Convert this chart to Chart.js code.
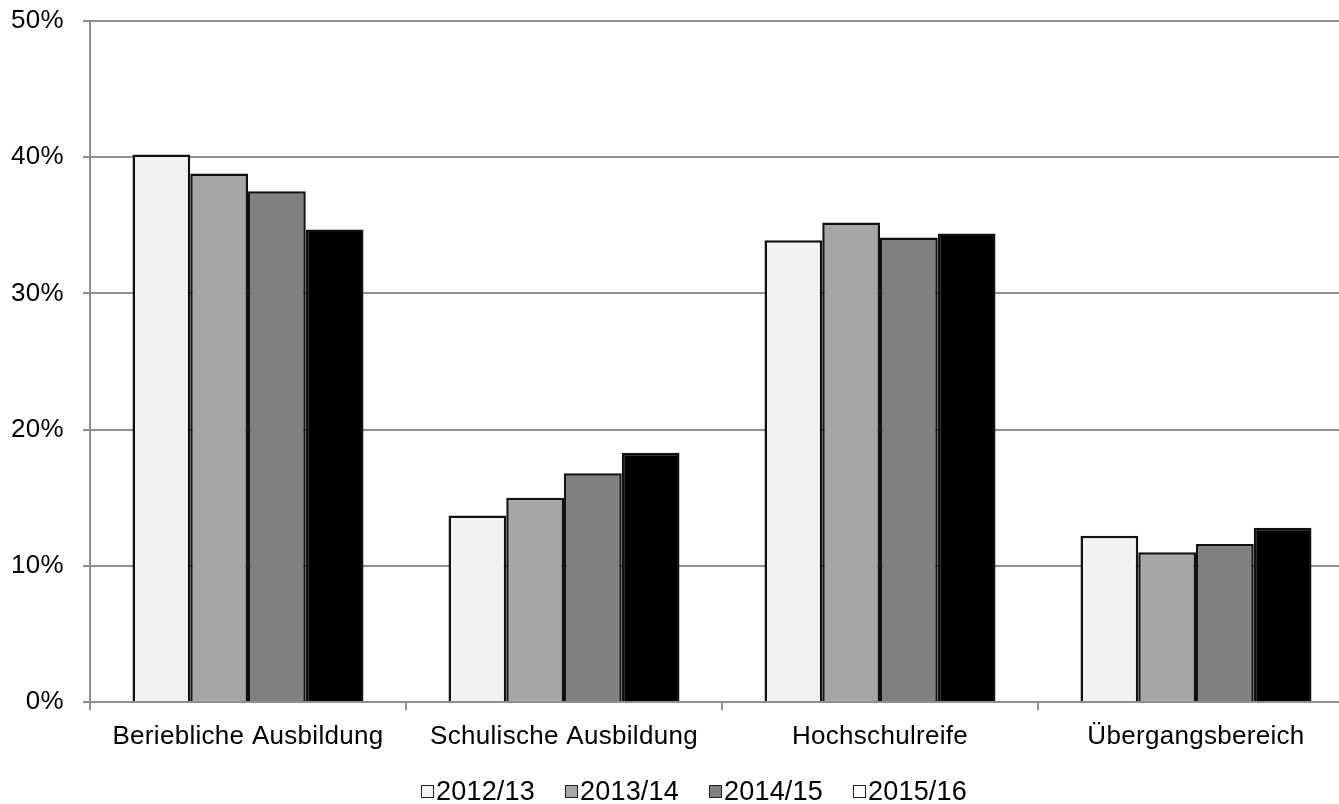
<!DOCTYPE html>
<html lang="de">
<head>
<meta charset="utf-8">
<title>Anteile nach Bildungsbereich</title>
<script src="https://cdn.jsdelivr.net/npm/chart.js@4.4.1/dist/chart.umd.min.js"></script>
<style>
  html, body { margin: 0; padding: 0; background: #ffffff; overflow: hidden; }
  #wrap { position: relative; width: 1356px; height: 804px; }
  #chart { position: absolute; left: 0; top: 0; }
  #legend {
    position: absolute; left: 421px; top: 777px;
    display: flex; align-items: center;
    font-family: "Liberation Sans", Arial, sans-serif; font-size: 27px;
    letter-spacing: 0.2px; color: #000; line-height: 28px;
  }
  #legend .item { display: flex; align-items: center; margin-right: 30px; }
  #legend .box { width: 11px; height: 11px; border: 1px solid #222; margin-right: 2px; }
</style>
</head>
<body>
<div id="wrap">
  <canvas id="chart" width="1356" height="804"></canvas>
  <div id="legend"></div>
</div>
<script>
// Bildungsbereiche (x-axis categories)
const categories = ['Beriebliche Ausbildung', 'Schulische Ausbildung', 'Hochschulreife', 'Übergangsbereich'];

// school years shown as series
const seriesLabels = ['2012/13', '2013/14', '2014/15', '2015/16'];

// shares in percent per school year
const values2012 = [40.2, 13.7, 33.9, 12.2];
const values2013 = [38.8, 15.0, 35.2, 11.0];
const values2014 = [37.5, 16.8, 34.1, 11.6];
const values2015 = [34.7, 18.3, 34.4, 12.8];

// y-axis ticks
const yTicks = [0, 10, 20, 30, 40, 50];

const fills = ['#f2f2f2', '#a6a6a6', '#808080', '#000000'];
const legendFills = ['#f2f2f2', '#a6a6a6', '#808080', '#ffffff'];
const allValues = [values2012, values2013, values2014, values2015];

const datasets = seriesLabels.map((label, i) => ({
  label,
  data: allValues[i],
  backgroundColor: fills[i],
  borderColor: '#111111',
  borderWidth: 2.5,
  borderSkipped: 'bottom',
  categoryPercentage: 0.731,
  barPercentage: 1.0
}));

const FONT = '"Liberation Sans", Arial, sans-serif';
const GRID = '#8f8f8f';

// slight letter spacing for the axis text
const spacingPlugin = {
  id: 'spacing',
  beforeDraw(chart) { chart.ctx.letterSpacing = '0.3px'; }
};

new Chart(document.getElementById('chart'), {
  type: 'bar',
  data: { labels: categories, datasets },
  plugins: [spacingPlugin],
  options: {
    responsive: false,
    animation: false,
    layout: { padding: { top: 21, right: 2, left: 0, bottom: 0 } },
    plugins: { legend: { display: false }, tooltip: { enabled: false } },
    scales: {
      x: {
        offset: true,
        grid: {
          offset: true, drawOnChartArea: false, drawTicks: true,
          tickLength: 8, color: GRID, lineWidth: 2
        },
        border: { display: true, color: GRID, width: 2 },
        ticks: {
          color: '#000', padding: 11, maxRotation: 0, autoSkip: false,
          font: { family: FONT, size: 26 }
        },
        afterFit(scale) { scale.height = 102; }
      },
      y: {
        min: 0, max: 50,
        afterBuildTicks(scale) { scale.ticks = yTicks.map(v => ({ value: v })); },
        grid: {
          color: GRID, lineWidth: 2, drawTicks: true, tickLength: 7
        },
        border: { display: true, color: GRID, width: 2 },
        ticks: {
          color: '#000', padding: 19,
          font: { family: FONT, size: 26 },
          callback: v => v + '%'
        },
        afterFit(scale) {
          scale.width = 90;
          scale.paddingTop = 0;
          scale.paddingBottom = 0;
        }
      }
    }
  }
});

// legend row
const legend = document.getElementById('legend');
seriesLabels.forEach((label, i) => {
  const item = document.createElement('div');
  item.className = 'item';
  const box = document.createElement('span');
  box.className = 'box';
  box.style.background = legendFills[i];
  const text = document.createElement('span');
  text.textContent = label;
  item.appendChild(box);
  item.appendChild(text);
  legend.appendChild(item);
});
</script>
</body>
</html>
